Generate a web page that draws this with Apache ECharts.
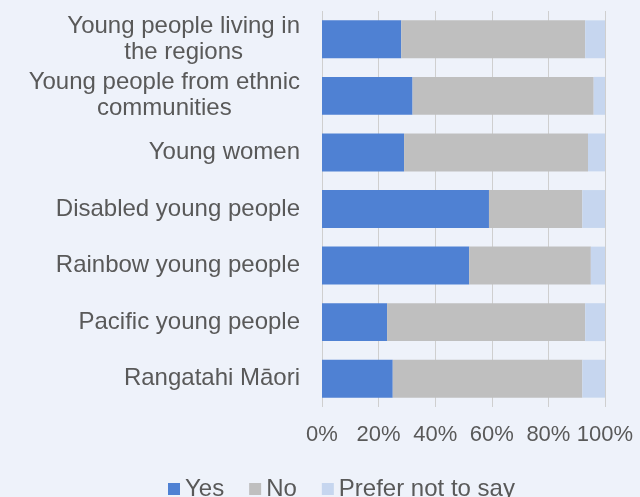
<!DOCTYPE html>
<html>
<head>
<meta charset="utf-8">
<script src="https://cdn.jsdelivr.net/npm/echarts@6/dist/echarts.min.js"></script>
<style>
  html, body { margin: 0; padding: 0; background: #eef2fa; }
  #chart { width: 640px; height: 497px; }
</style>
</head>
<body>
<div id="chart"></div>
<script>
// categories, top to bottom (line breaks as shown in the picture)
const groups = [
  "Young people living in\nthe regions",
  "Young people from ethnic\ncommunities",
  "Young women",
  "Disabled young people",
  "Rainbow young people",
  "Pacific young people",
  "Rangatahi Māori"
];
// percentages
const yesValues = [28, 32, 29, 59, 52, 23, 25];
const noValues = [65, 64, 65, 33, 43, 70, 67];
const preferValues = [7, 4, 6, 8, 5, 7, 8];
const seriesNames = ["Yes", "No", "Prefer not to say"];

const chart = echarts.init(document.getElementById("chart"));

const textColor = "#595959";
const font = "Liberation Sans, Arial, sans-serif";

const option = {
  backgroundColor: "#eef2fa",
  textStyle: { fontFamily: font },
  color: ["#4f81d3", "#bfbfbf", "#c6d6ef"],
  grid: {
    left: 322,
    right: 35,
    top: 11,
    bottom: 90,
  },
  legend: {
    data: seriesNames,
    left: 163,
    top: 472,
    itemWidth: 12,
    itemHeight: 12,
    itemGap: 25,
    icon: "rect",
    textStyle: { color: textColor, fontSize: 24, fontFamily: font },
  },
  xAxis: {
    type: "value",
    min: 0,
    max: 100,
    interval: 20,
    axisLine: { show: false },
    axisTick: { show: false },
    splitLine: { lineStyle: { color: "#cfcfcf", width: 1 } },
    axisLabel: {
      color: textColor,
      fontSize: 22,
      fontFamily: font,
      margin: 17,
      formatter: (v) => v + "%",
    },
  },
  yAxis: {
    type: "category",
    data: groups,
    inverse: true,
    axisLine: { show: false },
    axisTick: { show: false },
    axisLabel: {
      color: textColor,
      fontSize: 24,
      fontFamily: font,
      margin: 22,
      lineHeight: 26,
      // centre each wrapped line inside the right-aligned block
      formatter: (v) => v.split("\n").map((s) => "{c|" + s + "}").join("\n"),
      rich: {
        c: { align: "center", color: textColor, fontSize: 24, fontFamily: font, lineHeight: 26 },
      },
    },
  },
  series: [
    { name: seriesNames[0], type: "bar", stack: "all", data: yesValues, barCategoryGap: "33%" },
    { name: seriesNames[1], type: "bar", stack: "all", data: noValues },
    { name: seriesNames[2], type: "bar", stack: "all", data: preferValues },
  ],
};
chart.setOption(option);
</script>
</body>
</html>
